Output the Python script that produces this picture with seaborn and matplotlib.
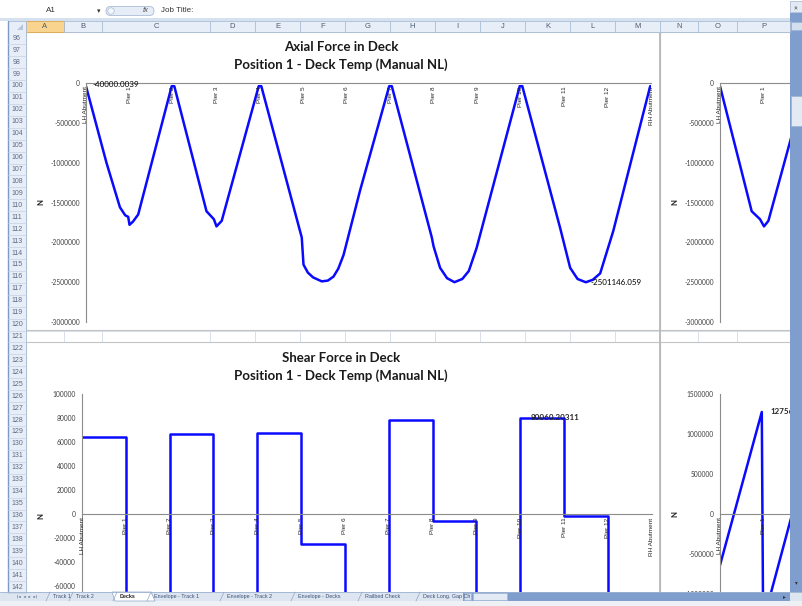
import matplotlib
matplotlib.use("Agg")
import matplotlib.pyplot as plt
import seaborn as sns
from matplotlib.patches import Rectangle, FancyBboxPatch, Polygon

sns.set_theme(style="white")
plt.rcParams['font.family'] = ['Lato', 'DejaVu Sans']
plt.rcParams['axes.unicode_minus'] = False

# ---------------- data ----------------
supports = ['LH Abutment'] + [f'Pier {i}' for i in range(1, 13)] + ['RH Abutment']

# axial force in deck, x = distance in spans from LH abutment
axial_x = [0.00, 0.47, 0.78, 0.90, 0.97, 1.00, 1.08, 1.20, 1.97, 2.03,
           2.77, 2.94, 3.00, 3.12, 3.97, 4.03, 4.96, 5.00, 5.10, 5.22,
           5.42, 5.56, 5.69, 5.80, 5.92, 6.30, 6.97, 7.03, 7.95, 7.99,
           8.14, 8.30, 8.47, 8.65, 8.80, 8.98, 9.97, 10.03, 10.90, 11.13,
           11.30, 11.49, 11.65, 11.82, 12.12, 12.97, 13.00]
axial_n = [-40000, -1000000, -1560000, -1660000, -1680000, -1780000, -1740000, -1650000, -40000, -40000,
           -1610000, -1710000, -1800000, -1730000, -40000, -40000, -1940000, -2280000, -2380000, -2440000,
           -2490000, -2480000, -2430000, -2330000, -2160000, -1350000, -40000, -40000, -1940000, -2050000,
           -2320000, -2450000, -2500000, -2460000, -2360000, -2070000, -40000, -40000, -1820000, -2320000,
           -2460000, -2501146, -2470000, -2390000, -1860000, -40000, -40000]

# shear force in deck (the big negative spans run off the bottom of the window)
shear_x = [0, 1, 1, 2, 2, 3, 3, 4, 4, 5, 5, 6, 6, 7, 7, 8, 8, 9, 9, 10, 10, 11, 11, 12, 12, 13]
shear_n = [64000, 64000, -80000, -80000, 66700, 66700, -80000, -80000, 67200, 67200,
           -25000, -25000, -80000, -80000, 78300, 78300, -5500, -5500, -80000, -80000,
           80060.2, 80060.2, -1400, -1400, -80000, -80000]

# partly visible charts on the right
side_axial_x = [0.00, 0.45, 0.72, 0.91, 1.00, 1.10, 1.64, 1.75]
side_axial_n = [-40000, -1020000, -1610000, -1710000, -1800000, -1730000, -640000, -420000]
side_shear_x = [0.00, 0.95, 0.98, 1.64, 1.75]
side_shear_n = [-640000, 1275600, -1350000, 0, 220000]

axial_ticks = [0, -500000, -1000000, -1500000, -2000000, -2500000, -3000000]
shear_ticks = [100000, 80000, 60000, 40000, 20000, 0, -20000, -40000, -60000]
side_shear_ticks = [1500000, 1000000, 500000, 0, -500000, -1000000]

col_letters = list('ABCDEFGHIJKLMNOP')
row_numbers = list(range(96, 143))
sheet_tabs = ['Track 1', 'Track 2', 'Decks', 'Envelope - Track 1', 'Envelope - Track 2',
              'Envelope - Decks', 'Railbed Check', 'Deck Long. Gap Ch']

# ---------------- layout (pixels) ----------------
W, H = 803, 606
col_edges = [26, 64, 102, 210, 255, 300, 345, 390, 435, 480, 525, 570, 615, 660, 698, 737, 790]
row_top, row_h = 32.3, 11.93
tab_left = [53, 76, 120, 154, 227, 298, 365, 423]
BLUE = '#0a0aff'
AXIS = '#8c8c8c'


def px_rect(x0, y0, x1, y1):
    return [x0 / W, 1 - y1 / H, (x1 - x0) / W, (y1 - y0) / H]


fig = plt.figure(figsize=(W / 100, H / 100), dpi=100)

# sheet background (gridlines + white chart areas)
bg = fig.add_axes([0, 0, 1, 1])
bg.set_xlim(0, W)
bg.set_ylim(H, 0)
bg.axis('off')
bg.set_zorder(0)
for x in col_edges:
    bg.plot([x, x], [row_top, 592], color='#d5dce8', lw=0.6, zorder=0.5)
for i in range(len(row_numbers) + 1):
    y = row_top + i * row_h
    bg.plot([26, 790], [y, y], color='#d5dce8', lw=0.6, zorder=0.5)
for (x0, y0, x1, y1) in [(26, 32.3, 660, 330.5), (26, 342.4, 660, 610),
                         (660, 32.3, 800, 330.5), (660, 342.4, 800, 610)]:
    bg.add_patch(Rectangle((x0, y0), x1 - x0, y1 - y0, facecolor='white',
                           edgecolor='#c4c4c4', lw=0.8, zorder=1))
bg.plot([660, 660], [32, 606], color='#b8b8b8', lw=1.3, zorder=2)

# titles and value-axis names
for y0, name in [(47, 'Axial Force in Deck'), (358, 'Shear Force in Deck')]:
    bg.text(341, y0, name, ha='center', va='center', fontsize=9.5, fontweight='bold', color='#1a1a1a')
    bg.text(341, y0 + 17.5, 'Position 1 - Deck Temp (Manual NL)', ha='center', va='center',
            fontsize=9.5, fontweight='bold', color='#1a1a1a')
for (x, y) in [(41, 202), (41, 516), (675, 202), (675, 514)]:
    bg.text(x, y, 'N', rotation=90, ha='center', va='center', fontsize=5.5, fontweight='bold')


def style_chart(ax, ticks, ylim, n_labels=len(supports)):
    ax.set_facecolor('none')
    ax.set_xlim(0, 13)
    ax.set_ylim(*ylim)
    for s in ['top', 'right']:
        ax.spines[s].set_visible(False)
    ax.spines['bottom'].set_position(('data', 0))
    ax.spines['bottom'].set_color(AXIS)
    ax.spines['left'].set_color(AXIS)
    ax.spines['bottom'].set_linewidth(0.8)
    ax.spines['left'].set_linewidth(0.8)
    ax.set_xticks([])
    ax.set_yticks(ticks)
    ax.set_yticklabels([f'{t:d}' for t in ticks])
    ax.tick_params(axis='y', length=0, pad=4.5, labelsize=4.8, labelcolor='#404040')
    ax.set_xlabel('')
    ax.set_ylabel('')
    for i, name in enumerate(supports[:n_labels]):
        ax.annotate(name, xy=(i, 0), xytext=(0, -2.5), textcoords='offset points',
                    rotation=90, ha='center', va='top', fontsize=4.6, color='#262626',
                    family=['Liberation Sans', 'DejaVu Sans'])


# main axial chart
ax1 = fig.add_axes(px_rect(86, 83, 651.5, 322))
sns.lineplot(x=axial_x, y=axial_n, ax=ax1, sort=False, estimator=None, color=BLUE, linewidth=1.8)
style_chart(ax1, axial_ticks, (-3000000, 0))
ax1.text(0.14, -25000, '-40000.0039', fontsize=5.8, va='center', ha='left', color='black')
ax1.text(11.6, -2501146, '-2501146.059', fontsize=5.8, va='center', ha='left', color='black')

# main shear chart
ax2 = fig.add_axes(px_rect(82, 394, 651.7, 634))
sns.lineplot(x=shear_x, y=shear_n, ax=ax2, sort=False, estimator=None, color=BLUE, linewidth=1.8)
style_chart(ax2, shear_ticks, (-100000, 100000))
ax2.text(10.23, 80060.2, '80060.20311', fontsize=5.8, va='center', ha='left', fontweight='bold')

# right hand charts (mostly hidden behind the scroll bar)
ax3 = fig.add_axes(px_rect(720, 83, 720 + 13 * 44, 322))
sns.lineplot(x=side_axial_x, y=side_axial_n, ax=ax3, sort=False, estimator=None, color=BLUE, linewidth=1.8)
style_chart(ax3, axial_ticks, (-3000000, 0), n_labels=2)

ax4 = fig.add_axes(px_rect(720, 394, 720 + 13 * 44, 634))
sns.lineplot(x=side_shear_x, y=side_shear_n, ax=ax4, sort=False, estimator=None, color=BLUE, linewidth=1.8)
style_chart(ax4, side_shear_ticks, (-1500000, 1500000), n_labels=2)
ax4.text(1.14, 1275600, '12756', fontsize=5.8, va='center', ha='left', fontweight='bold')

for a in (ax1, ax2, ax3, ax4):
    a.set_zorder(1)

# ---------------- window chrome on top ----------------
ov = fig.add_axes([0, 0, 1, 1])
ov.set_xlim(0, W)
ov.set_ylim(H, 0)
ov.axis('off')
ov.set_zorder(5)
ov.patch.set_alpha(0)
small = ['Liberation Sans', 'DejaVu Sans']

# formula bar
ov.add_patch(Rectangle((0, 0), W, 19, facecolor='white', edgecolor='none'))
ov.add_patch(Rectangle((0, 17.5), W, 3.5, facecolor='#d6e1f0', edgecolor='none'))
ov.text(51, 11, 'A1', fontsize=5.8, ha='center', va='center', color='#333333', family=small)
ov.text(99, 11, '▾', fontsize=5, ha='center', va='center', color='#333333', family=['DejaVu Sans'])
ov.add_patch(FancyBboxPatch((106, 6.5), 48, 9, boxstyle='round,pad=0,rounding_size=4.5',
                            facecolor='#e6edf7', edgecolor='#a8bcd8', lw=0.6))
ov.add_patch(plt.Circle((111, 11), 3.2, facecolor='#f4f7fb', edgecolor='#a8bcd8', lw=0.5))
ov.text(146, 11, 'fx', fontsize=5.5, style='italic', ha='center', va='center', color='#555555', family=small)
ov.text(161, 11, 'Job Title:', fontsize=5.8, ha='left', va='center', color='#333333', family=small)

# column headers
ov.add_patch(Rectangle((8, 21), 782, 10.7, facecolor='#e8eef7', edgecolor='#a9bdd6', lw=0.6))
ov.add_patch(Rectangle((26, 21), 38, 10.7, facecolor='#f9d48f', edgecolor='#e0a94a', lw=0.6))
for i, letter in enumerate(col_letters):
    x0, x1 = col_edges[i], col_edges[i + 1]
    ov.plot([x1, x1], [21, 31.7], color='#a9bdd6', lw=0.6)
    ov.text((x0 + x1) / 2, 26.5, letter, fontsize=5.5, ha='center', va='center', color='#4d5b73', family=small)
ov.add_patch(Polygon([(23, 23.5), (23, 29.5), (17, 29.5)], closed=True, facecolor='#b6c6dc', edgecolor='none'))

# row headers
ov.add_patch(Rectangle((8, 31.7), 18, 560.3, facecolor='#e8eef7', edgecolor='none'))
ov.plot([8, 8], [21, 592], color='#7d9ac6', lw=1)
ov.plot([26, 26], [21, 592], color='#a9bdd6', lw=0.6)
for i, r in enumerate(row_numbers):
    y = row_top + i * row_h
    ov.plot([8, 26], [y + row_h, y + row_h], color='#c3d1e4', lw=0.5)
    ov.text(17, y + row_h / 2, str(r), fontsize=5, ha='center', va='center', color='#5b6b86', family=small)

# vertical scroll bar
ov.add_patch(Rectangle((790, 13), 13, 579, facecolor='#7f9ece', edgecolor='none'))
ov.add_patch(Rectangle((790, 1), 13, 11, facecolor='#e3eaf4', edgecolor='#9cb2d2', lw=0.5))
ov.text(796.5, 6.5, '»', rotation=90, fontsize=5, ha='center', va='center', color='#333333', family=['DejaVu Sans'])
ov.add_patch(Rectangle((791, 22), 11, 8, facecolor='#d4dfee', edgecolor='#9cb2d2', lw=0.5))
ov.add_patch(Rectangle((791, 96), 11, 30, facecolor='#e3eaf4', edgecolor='#9cb2d2', lw=0.5))
ov.text(796.5, 583, '▾', fontsize=4, ha='center', va='center', color='#333333', family=['DejaVu Sans'])

# sheet tabs and horizontal scroll bar
ov.add_patch(Rectangle((0, 592), W, 9, facecolor='#dde5f0', edgecolor='none'))
ov.add_patch(Rectangle((0, 601), W, 5, facecolor='#edf0f4', edgecolor='none'))
ov.plot([0, W], [592, 592], color='#9cb2d2', lw=0.6)
ov.text(27, 596.5, '|◂  ◂  ▸  ▸|', fontsize=3.2, ha='center', va='center', color='#4a5f80', family=['DejaVu Sans'])
ov.add_patch(Polygon([(112, 592), (151, 592), (155, 601), (115, 601)], closed=True,
                     facecolor='white', edgecolor='#8ea6c8', lw=0.5))
for name, x in zip(sheet_tabs, tab_left):
    bold = name == 'Decks'
    ov.text(x, 596.5, name, fontsize=3.9, ha='left', va='center', family=small,
            fontweight='bold' if bold else 'normal', color='#1f1f1f' if bold else '#3b5077')
    ov.plot([x - 7, x - 3], [601, 592], color='#8ea6c8', lw=0.5)
ov.add_patch(Rectangle((463, 592), 327, 9, facecolor='#7f9ece', edgecolor='none'))
ov.add_patch(Rectangle((464, 593), 7, 7, facecolor='#d4dfee', edgecolor='#9cb2d2', lw=0.4))
ov.add_patch(Rectangle((473, 593), 34, 7, facecolor='#e3eaf4', edgecolor='#9cb2d2', lw=0.4))
ov.text(784, 596.5, '▸', fontsize=4, ha='center', va='center', color='#333333', family=['DejaVu Sans'])

fig.savefig('out.png', dpi=100)
